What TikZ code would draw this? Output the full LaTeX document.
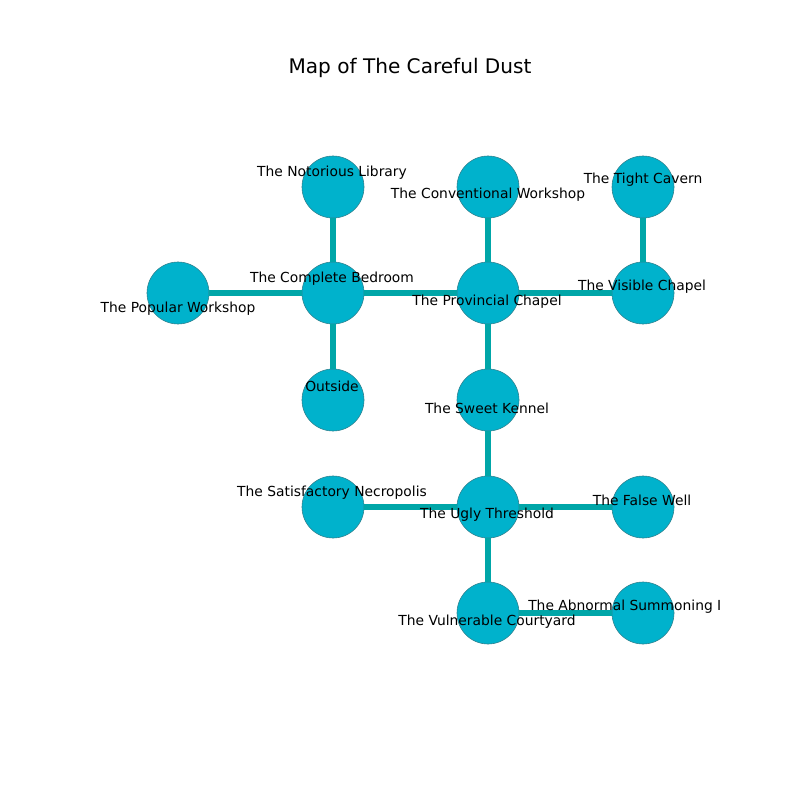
\documentclass[tikz,border=0pt]{standalone}
\usepackage{fontspec}
\setmainfont{DejaVu Sans}
\definecolor{roomFill}{HTML}{00B2CC}
\definecolor{roomLine}{HTML}{2F7F8C}
\definecolor{passLine}{HTML}{00A6A8}
\begin{document}
\begin{tikzpicture}[x = 0.01in, y = -0.01in]
\tikzstyle{roomStyle} = [shape = circle, minimum size = 0.62in, inner sep = 0pt, fill = roomFill, draw = roomLine, line width = 0.4pt]
\tikzstyle{passStyle} = [draw = passLine, line width = 3.8pt]
\tikzstyle{labelStyle} = [inner sep = 0pt, font = \fontsize{10}{12}\selectfont]
\useasboundingbox[fill = white] (0,0) rectangle (800,800);
\node[font = \fontsize{14.5}{17}\selectfont] (title) at (410,68) {Map of The Careful Dust};
% rooms
\node[roomStyle] (v0) at (178,293) {};
\node[roomStyle] (v1) at (333,187) {};
\node[roomStyle] (v2) at (333,293) {};
\node[roomStyle] (v3) at (333,400) {};
\node[roomStyle] (v4) at (333,507) {};
\node[roomStyle] (v5) at (488,187) {};
\node[roomStyle] (v6) at (488,293) {};
\node[roomStyle] (v7) at (488,400) {};
\node[roomStyle] (v8) at (488,507) {};
\node[roomStyle] (v9) at (488,613) {};
\node[roomStyle] (v10) at (643,187) {};
\node[roomStyle] (v11) at (643,293) {};
\node[roomStyle] (v12) at (643,507) {};
\node[roomStyle] (v13) at (643,613) {};
% passages
\draw[passStyle] (v0) -- (v2);
\draw[passStyle] (v1) -- (v2);
\draw[passStyle] (v2) -- (v3);
\draw[passStyle] (v2) -- (v6);
\draw[passStyle] (v5) -- (v6);
\draw[passStyle] (v6) -- (v11);
\draw[passStyle] (v10) -- (v11);
\draw[passStyle] (v6) -- (v7);
\draw[passStyle] (v7) -- (v8);
\draw[passStyle] (v4) -- (v8);
\draw[passStyle] (v8) -- (v12);
\draw[passStyle] (v8) -- (v9);
\draw[passStyle] (v9) -- (v13);
% labels
\node[labelStyle] (l0) at (178,309) {The Popular Workshop};
\node[labelStyle] (l1) at (332,173) {The Notorious Library};
\node[labelStyle] (l2) at (332,279) {The Complete Bedroom};
\node[labelStyle] (l3) at (332,386) {Outside};
\node[labelStyle] (l4) at (332,493) {The Satisfactory Necropolis};
\node[labelStyle] (l5) at (488,195) {The Conventional Workshop};
\node[labelStyle] (l6) at (487,302) {The Provincial Chapel};
\node[labelStyle] (l7) at (487,408) {The Sweet Kennel};
\node[labelStyle] (l8) at (487,515) {The Ugly Threshold};
\node[labelStyle] (l9) at (487,622) {The Vulnerable Courtyard};
\node[labelStyle] (l10) at (643,180) {The Tight Cavern};
\node[labelStyle] (l11) at (642,287) {The Visible Chapel};
\node[labelStyle] (l12) at (642,500) {The False Well};
\node[labelStyle, anchor = west] (l13) at (528,607) {The Abnormal Summoning I};
\end{tikzpicture}
\end{document}
